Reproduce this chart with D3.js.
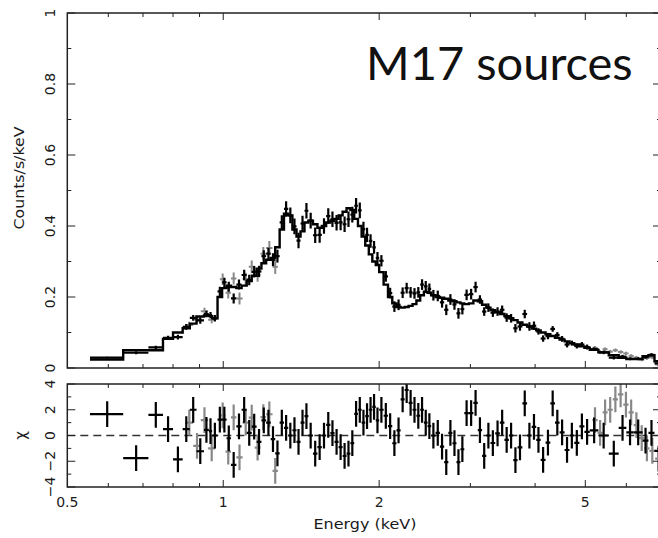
<!DOCTYPE html>
<html>
<head>
<meta charset="utf-8">
<script src="https://d3js.org/d3.v7.min.js"></script>
<style>
  body { margin: 0; background: #fff; }
  text { font-family: "DejaVu Sans", "Liberation Sans", sans-serif; fill: #1a1a1a; }
  text.title { font-family: Lato, "Open Sans", sans-serif; fill: #111; }
</style>
</head>
<body>
<div id="chart"></div>
<script>
var width = 658, height = 538;

// black data set: bin edges (keV), model and observed rate (counts/s/keV), 1-sigma errors
var binEdges = [0.553, 0.641, 0.717, 0.765, 0.800, 0.835, 0.862, 0.888, 0.918, 0.938,
  0.952, 0.975, 0.995, 1.015, 1.035, 1.06, 1.085, 1.11, 1.135, 1.16,
  1.185, 1.21, 1.235, 1.26, 1.285, 1.31, 1.335, 1.36, 1.385, 1.41,
  1.435, 1.46, 1.49, 1.52, 1.55, 1.58, 1.61, 1.64, 1.67, 1.70,
  1.73, 1.76, 1.79, 1.82, 1.85, 1.88, 1.91, 1.94, 1.97, 2.00,
  2.04, 2.08, 2.12, 2.16, 2.20, 2.24, 2.28, 2.32, 2.36, 2.40,
  2.44, 2.48, 2.52, 2.57, 2.62, 2.67, 2.72, 2.77, 2.82, 2.87,
  2.92, 2.98, 3.04, 3.10, 3.16, 3.22, 3.28, 3.35, 3.42, 3.49,
  3.56, 3.63, 3.70, 3.78, 3.86, 3.94, 4.02, 4.10, 4.19, 4.28,
  4.37, 4.46, 4.56, 4.66, 4.76, 4.87, 4.98, 5.10, 5.30, 5.55,
  5.80, 6.00, 6.20, 6.45, 6.62, 6.80, 7.10];

var modelRate = [0.024, 0.050, 0.050, 0.082, 0.100, 0.112, 0.125, 0.145, 0.148, 0.146,
  0.140, 0.200, 0.225, 0.232, 0.228, 0.225, 0.232, 0.245, 0.260, 0.280,
  0.295, 0.305, 0.310, 0.340, 0.390, 0.435, 0.430, 0.390, 0.370, 0.385,
  0.410, 0.415, 0.405, 0.395, 0.400, 0.410, 0.415, 0.420, 0.430, 0.440,
  0.450, 0.445, 0.420, 0.400, 0.370, 0.345, 0.320, 0.300, 0.290, 0.270,
  0.235, 0.200, 0.182, 0.172, 0.170, 0.172, 0.175, 0.180, 0.190, 0.205,
  0.215, 0.212, 0.205, 0.200, 0.198, 0.195, 0.190, 0.188, 0.185, 0.182,
  0.180, 0.182, 0.190, 0.188, 0.178, 0.170, 0.163, 0.157, 0.152, 0.146,
  0.140, 0.135, 0.128, 0.122, 0.117, 0.111, 0.106, 0.100, 0.095, 0.090,
  0.085, 0.080, 0.075, 0.070, 0.066, 0.061, 0.057, 0.051, 0.044, 0.036,
  0.029, 0.025, 0.025, 0.033, 0.036, 0.019];

var obsRate = [0.029, 0.043, 0.058, 0.085, 0.087, 0.116, 0.141, 0.134, 0.152, 0.149,
  0.140, 0.216, 0.241, 0.229, 0.196, 0.235, 0.262, 0.248, 0.271, 0.272,
  0.315, 0.322, 0.305, 0.315, 0.410, 0.448, 0.430, 0.399, 0.359, 0.407,
  0.443, 0.415, 0.374, 0.375, 0.400, 0.428, 0.419, 0.409, 0.410, 0.405,
  0.419, 0.432, 0.457, 0.444, 0.391, 0.375, 0.358, 0.340, 0.310, 0.302,
  0.258, 0.211, 0.173, 0.178, 0.212, 0.225, 0.213, 0.210, 0.213, 0.235,
  0.230, 0.223, 0.205, 0.203, 0.185, 0.164, 0.193, 0.179, 0.154, 0.166,
  0.206, 0.208, 0.228, 0.193, 0.159, 0.170, 0.156, 0.159, 0.164, 0.142,
  0.140, 0.112, 0.117, 0.152, 0.117, 0.119, 0.103, 0.083, 0.090, 0.110,
  0.093, 0.082, 0.066, 0.070, 0.062, 0.066, 0.059, 0.053, 0.044, 0.029,
  0.032, 0.026, 0.026, 0.031, 0.037, 0.013];

var obsErr = [0.003, 0.004, 0.005, 0.006, 0.007, 0.008, 0.008, 0.009, 0.009, 0.009,
  0.009, 0.013, 0.013, 0.014, 0.014, 0.014, 0.015, 0.015, 0.016, 0.016,
  0.017, 0.017, 0.018, 0.018, 0.020, 0.022, 0.022, 0.022, 0.022, 0.022,
  0.022, 0.022, 0.022, 0.022, 0.022, 0.022, 0.022, 0.022, 0.022, 0.022,
  0.022, 0.022, 0.022, 0.022, 0.021, 0.020, 0.019, 0.018, 0.017, 0.016,
  0.015, 0.015, 0.015, 0.015, 0.015, 0.015, 0.015, 0.015, 0.015, 0.015,
  0.015, 0.015, 0.015, 0.015, 0.015, 0.015, 0.015, 0.015, 0.015, 0.015,
  0.015, 0.015, 0.015, 0.012, 0.012, 0.012, 0.012, 0.012, 0.012, 0.012,
  0.012, 0.012, 0.012, 0.012, 0.012, 0.012, 0.009, 0.009, 0.009, 0.008,
  0.008, 0.008, 0.008, 0.007, 0.007, 0.007, 0.007, 0.005, 0.005, 0.005,
  0.005, 0.004, 0.004, 0.005, 0.005, 0.005];

// grey data set (second instrument)
var greyLo = [0.845, 0.875, 0.905, 0.935, 0.985, 1.010, 1.035, 1.060, 1.090, 1.120,
  1.150, 1.180, 1.210, 1.245, 5.16, 5.28, 5.40, 5.52, 5.65, 5.78,
  5.92, 6.06, 6.20, 6.35, 6.50, 6.65, 6.82];
var greyHi = [0.875, 0.905, 0.935, 0.965, 1.010, 1.035, 1.060, 1.090, 1.120, 1.150,
  1.180, 1.210, 1.245, 1.275, 5.28, 5.40, 5.52, 5.65, 5.78, 5.92,
  6.06, 6.20, 6.35, 6.50, 6.65, 6.82, 7.00];
var greyRate = [0.121, 0.137, 0.160, 0.136, 0.250, 0.212, 0.252, 0.196, 0.250, 0.285,
  0.262, 0.322, 0.338, 0.285, 0.057, 0.045, 0.053, 0.046, 0.050, 0.045,
  0.041, 0.034, 0.029, 0.024, 0.028, 0.030, 0.010];
var greyErr = [0.009, 0.010, 0.010, 0.010, 0.016, 0.016, 0.017, 0.017, 0.018, 0.018,
  0.019, 0.019, 0.020, 0.020, 0.005, 0.005, 0.005, 0.005, 0.005, 0.005,
  0.005, 0.005, 0.005, 0.005, 0.005, 0.005, 0.005];

var energyLabels = [0.5, 1, 2, 5];
var energyMajor = [1, 2, 5];
var energyMinor = [0.6, 0.7, 0.8, 0.9, 3, 4, 6, 7];
var rateLabels = [0, 0.2, 0.4, 0.6, 0.8, 1];
var rateMinor = [0.1, 0.3, 0.5, 0.7, 0.9];
var chiLabels = [-4, -2, 0, 2, 4];
var chiMinor = [-3, -1, 1, 3];

var svg = d3.select("#chart").append("svg")
  .attr("width", width)
  .attr("height", height);

var plotLeft = 67.3, plotRight = 661;
var topPanel = {top: 13, bottom: 368};
var resPanel = {top: 384, bottom: 487};

var x = d3.scaleLog().domain([0.5, 7]).range([plotLeft, plotRight]);
var yRate = d3.scaleLinear().domain([0, 1]).range([topPanel.bottom, topPanel.top]);
var yChi = d3.scaleLinear().domain([-4, 4]).range([resPanel.bottom, resPanel.top]);

var bins = modelRate.map(function(m, i) {
  var lo = binEdges[i], hi = binEdges[i + 1];
  return {lo: lo, hi: hi, mid: (lo + hi) / 2, rate: obsRate[i], err: obsErr[i],
          model: m, chi: (obsRate[i] - m) / obsErr[i]};
});

var greyBins = greyRate.map(function(r, i) {
  var lo = greyLo[i], hi = greyHi[i], mid = (lo + hi) / 2;
  var k = d3.bisectRight(binEdges, mid) - 1;
  return {lo: lo, hi: hi, mid: mid, rate: r, err: greyErr[i],
          chi: (r - modelRate[k]) / greyErr[i]};
});

var defs = svg.append("defs");
defs.append("clipPath").attr("id", "clipTop").append("rect")
  .attr("x", plotLeft).attr("y", topPanel.top)
  .attr("width", plotRight - plotLeft).attr("height", topPanel.bottom - topPanel.top);
defs.append("clipPath").attr("id", "clipRes").append("rect")
  .attr("x", plotLeft).attr("y", resPanel.top)
  .attr("width", plotRight - plotLeft).attr("height", resPanel.bottom - resPanel.top);

function drawCrosses(g, data, yScale, val, err, color, sw) {
  var c = g.append("g").attr("stroke", color).attr("stroke-width", sw);
  c.selectAll(".h").data(data).enter().append("line")
    .attr("x1", d => x(d.lo)).attr("x2", d => x(d.hi))
    .attr("y1", d => yScale(val(d))).attr("y2", d => yScale(val(d)));
  c.selectAll(".v").data(data).enter().append("line")
    .attr("x1", d => x(d.mid)).attr("x2", d => x(d.mid))
    .attr("y1", d => yScale(val(d) - err(d))).attr("y2", d => yScale(val(d) + err(d)));
}

// ---- top panel: spectrum
var gTop = svg.append("g").attr("clip-path", "url(#clipTop)");
drawCrosses(gTop, greyBins, yRate, d => d.rate, d => d.err, "#888", 2);
drawCrosses(gTop, bins, yRate, d => d.rate, d => d.err, "#000", 2.2);

var stepPts = bins.map(d => [d.lo, d.model]);
stepPts.push([bins[bins.length - 1].hi, bins[bins.length - 1].model]);
gTop.append("path")
  .datum(stepPts)
  .attr("fill", "none")
  .attr("stroke", "#000")
  .attr("stroke-width", 2.4)
  .attr("d", d3.line().x(d => x(d[0])).y(d => yRate(d[1])).curve(d3.curveStepAfter));

// ---- residual panel
var gRes = svg.append("g").attr("clip-path", "url(#clipRes)");
gRes.append("line")
  .attr("x1", plotLeft).attr("x2", plotRight)
  .attr("y1", yChi(0)).attr("y2", yChi(0))
  .attr("stroke", "#333").attr("stroke-width", 1.3)
  .attr("stroke-dasharray", "8,5");
drawCrosses(gRes, greyBins, yChi, d => d.chi, d => 1, "#888", 2.2);
drawCrosses(gRes, bins, yChi, d => d.chi, d => 1, "#000", 2.2);

// ---- frames and ticks
function frame(panel, yScale, yMajor, yMinor) {
  var g = svg.append("g").attr("stroke", "#222").attr("fill", "none");
  g.append("rect")
    .attr("x", plotLeft).attr("y", panel.top)
    .attr("width", plotRight - plotLeft).attr("height", panel.bottom - panel.top)
    .attr("stroke-width", 1.5);
  var xt = energyMajor.map(v => [v, 7]).concat(energyMinor.map(v => [v, 4]));
  g.selectAll(".xb").data(xt).enter().append("line")
    .attr("x1", d => x(d[0])).attr("x2", d => x(d[0]))
    .attr("y1", panel.bottom).attr("y2", d => panel.bottom - d[1]);
  g.selectAll(".xt").data(xt).enter().append("line")
    .attr("x1", d => x(d[0])).attr("x2", d => x(d[0]))
    .attr("y1", panel.top).attr("y2", d => panel.top + d[1]);
  var yt = yMajor.map(v => [v, 8]).concat(yMinor.map(v => [v, 4]));
  g.selectAll(".yl").data(yt).enter().append("line")
    .attr("x1", plotLeft).attr("x2", d => plotLeft + d[1])
    .attr("y1", d => yScale(d[0])).attr("y2", d => yScale(d[0]));
  g.selectAll(".yr").data(yt).enter().append("line")
    .attr("x1", plotRight).attr("x2", d => plotRight - d[1])
    .attr("y1", d => yScale(d[0])).attr("y2", d => yScale(d[0]));
}
frame(topPanel, yRate, rateLabels, rateMinor);
frame(resPanel, yChi, chiLabels, chiMinor);

// ---- labels
var labX = 55;
svg.selectAll(".rl").data(rateLabels).enter().append("text")
  .attr("transform", d => "translate(" + labX + "," + yRate(d) + ") rotate(-90)")
  .attr("text-anchor", "middle")
  .attr("font-size", 14)
  .text(d => d3.format("~g")(d));

svg.selectAll(".cl").data(chiLabels).enter().append("text")
  .attr("transform", d => "translate(" + labX + "," + yChi(d) + ") rotate(-90)")
  .attr("text-anchor", "middle")
  .attr("font-size", 14)
  .text(d => d < 0 ? "\u2212" + Math.abs(d) : String(d));

svg.selectAll(".el").data(energyLabels).enter().append("text")
  .attr("x", d => x(d)).attr("y", 507)
  .attr("text-anchor", "middle")
  .attr("font-size", 14)
  .text(d => String(d));

svg.append("text")
  .attr("transform", "translate(24," + 178 + ") rotate(-90)")
  .attr("text-anchor", "middle")
  .attr("font-size", 14)
  .attr("textLength", 103).attr("lengthAdjust", "spacingAndGlyphs")
  .text("Counts/s/keV");

svg.append("text")
  .attr("transform", "translate(26," + yChi(0) + ") rotate(-90)")
  .attr("text-anchor", "middle")
  .attr("font-size", 15)
  .text("\u03c7");

svg.append("text")
  .attr("x", 365).attr("y", 529)
  .attr("text-anchor", "middle")
  .attr("font-size", 14)
  .attr("textLength", 103).attr("lengthAdjust", "spacingAndGlyphs")
  .text("Energy (keV)");

svg.append("text")
  .attr("class", "title")
  .attr("x", 366).attr("y", 80)
  .attr("font-size", 47)
  .text("M17 sources");
</script>
</body>
</html>
